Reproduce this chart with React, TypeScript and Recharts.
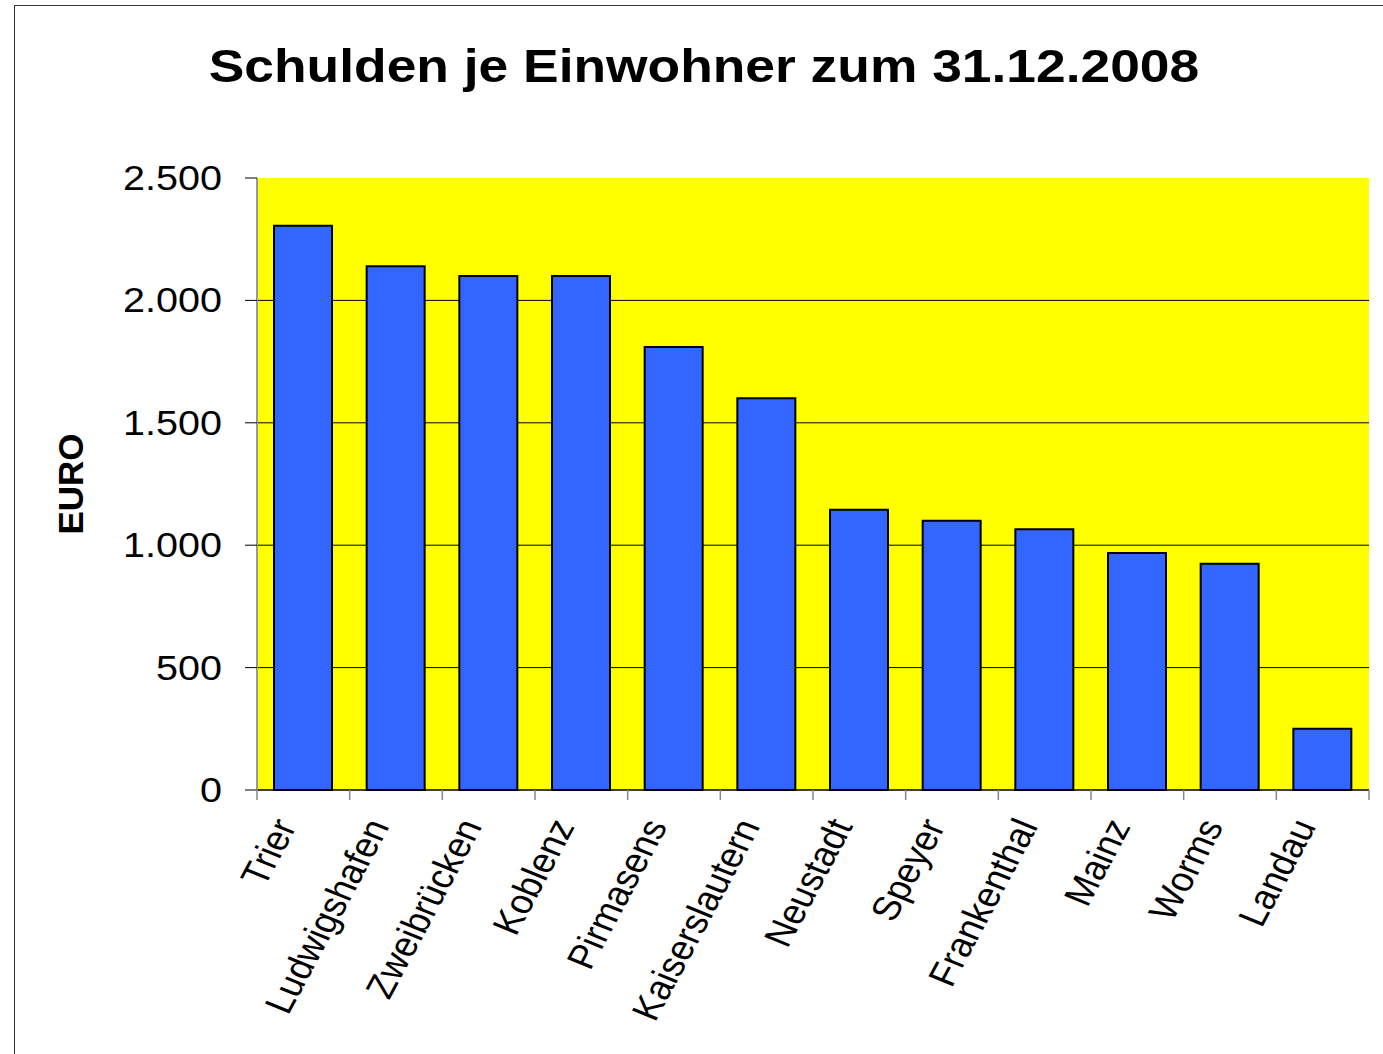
import React from 'react'
import { BarChart, Bar, XAxis, YAxis, CartesianGrid } from 'recharts'

const cities = [
  'Trier', 'Ludwigshafen', 'Zweibrücken', 'Koblenz', 'Pirmasens', 'Kaiserslautern',
  'Neustadt', 'Speyer', 'Frankenthal', 'Mainz', 'Worms', 'Landau',
]
const debtPerResident = [2305, 2140, 2100, 2100, 1810, 1600, 1145, 1100, 1065, 968, 924, 250]
const yTicks = [0, 500, 1000, 1500, 2000, 2500]
const gridValues = [500, 1000, 1500, 2000]

const data = cities.map((city, i) => ({ city, euro: debtPerResident[i] }))

const FONT = '"Liberation Sans", Arial, sans-serif'

// 2500 -> "2.500"
const fmt = (v: number) =>
  v >= 1000 ? `${Math.floor(v / 1000)}.${String(v % 1000).padStart(3, '0')}` : String(v)

function YTick({ x, y, payload }: any) {
  return (
    <g transform={`translate(${x},${y}) scale(1.13,1)`}>
      <text x={0} y={0} dy={12} textAnchor="end" fontSize={35} fontFamily={FONT} fill="#000">
        {fmt(payload.value)}
      </text>
    </g>
  )
}

function XTick({ x, y, payload, index }: any) {
  const half = payload.offset ?? 0
  const last = index === cities.length - 1
  return (
    <g>
      <line x1={x - half} y1={y} x2={x - half} y2={y + 10} stroke="#888" strokeWidth={1.5} />
      {last && <line x1={x + half} y1={y} x2={x + half} y2={y + 10} stroke="#888" strokeWidth={1.5} />}
      <g transform={`translate(${x - 6},${y + 36}) scale(1.15,1) rotate(-65)`}>
        <text x={0} y={0} textAnchor="end" fontSize={34} fontFamily={FONT} fill="#000">
          {payload.value}
        </text>
      </g>
    </g>
  )
}

export default function App() {
  return (
    <div style={{ position: 'absolute', left: 0, top: 0, width: 1383, height: 1054, overflow: 'hidden', background: '#fff' }}>
      <div style={{ position: 'absolute', left: 14, top: 5, width: 1400, height: 1100, borderLeft: '1.5px solid #333', borderTop: '1.5px solid #333' }} />
      <div
        style={{
          position: 'absolute', left: 0, width: 1408, top: 40, textAlign: 'center',
          fontFamily: FONT, fontWeight: 'bold', fontSize: 46, lineHeight: '52px',
          transform: 'scaleX(1.16)', transformOrigin: '704px 0',
        }}
      >
        Schulden je Einwohner zum 31.12.2008
      </div>
      <BarChart
        width={1383}
        height={1054}
        data={data}
        margin={{ top: 178, right: 14, left: 0, bottom: 0 }}
        barSize={58}
        style={{ position: 'absolute', left: 0, top: 0 }}
      >
        <CartesianGrid
          vertical={false}
          horizontalValues={gridValues}
          fill="#FFFF00"
          fillOpacity={1}
          stroke="#000"
          strokeWidth={1}
        />
        <XAxis
          dataKey="city"
          height={264}
          interval={0}
          tickSize={0}
          tickMargin={0}
          tickLine={false}
          tick={<XTick />}
          axisLine={{ stroke: '#000', strokeWidth: 1.5 }}
        />
        <XAxis xAxisId="top" dataKey="city" orientation="top" height={0} tick={false} tickLine={false} axisLine={{ stroke: '#999', strokeWidth: 2 }} />
        <YAxis
          width={257}
          domain={[0, 2500]}
          ticks={yTicks}
          interval={0}
          tickSize={12}
          tickMargin={23}
          tick={<YTick />}
          tickLine={{ stroke: '#000', strokeWidth: 1 }}
          axisLine={{ stroke: '#999', strokeWidth: 2 }}
          label={{
            value: 'EURO', angle: -90, position: 'insideLeft', offset: 71,
            style: { fontFamily: FONT, fontWeight: 'bold', fontSize: 35, fill: '#000', textAnchor: 'middle' },
          }}
        />
        <YAxis yAxisId="right" orientation="right" width={0} domain={[0, 2500]} tick={false} tickLine={false} axisLine={{ stroke: '#999', strokeWidth: 2 }} />
        <Bar dataKey="euro" fill="#3366FF" stroke="#000" strokeWidth={2} isAnimationActive={false} />
      </BarChart>
    </div>
  )
}
